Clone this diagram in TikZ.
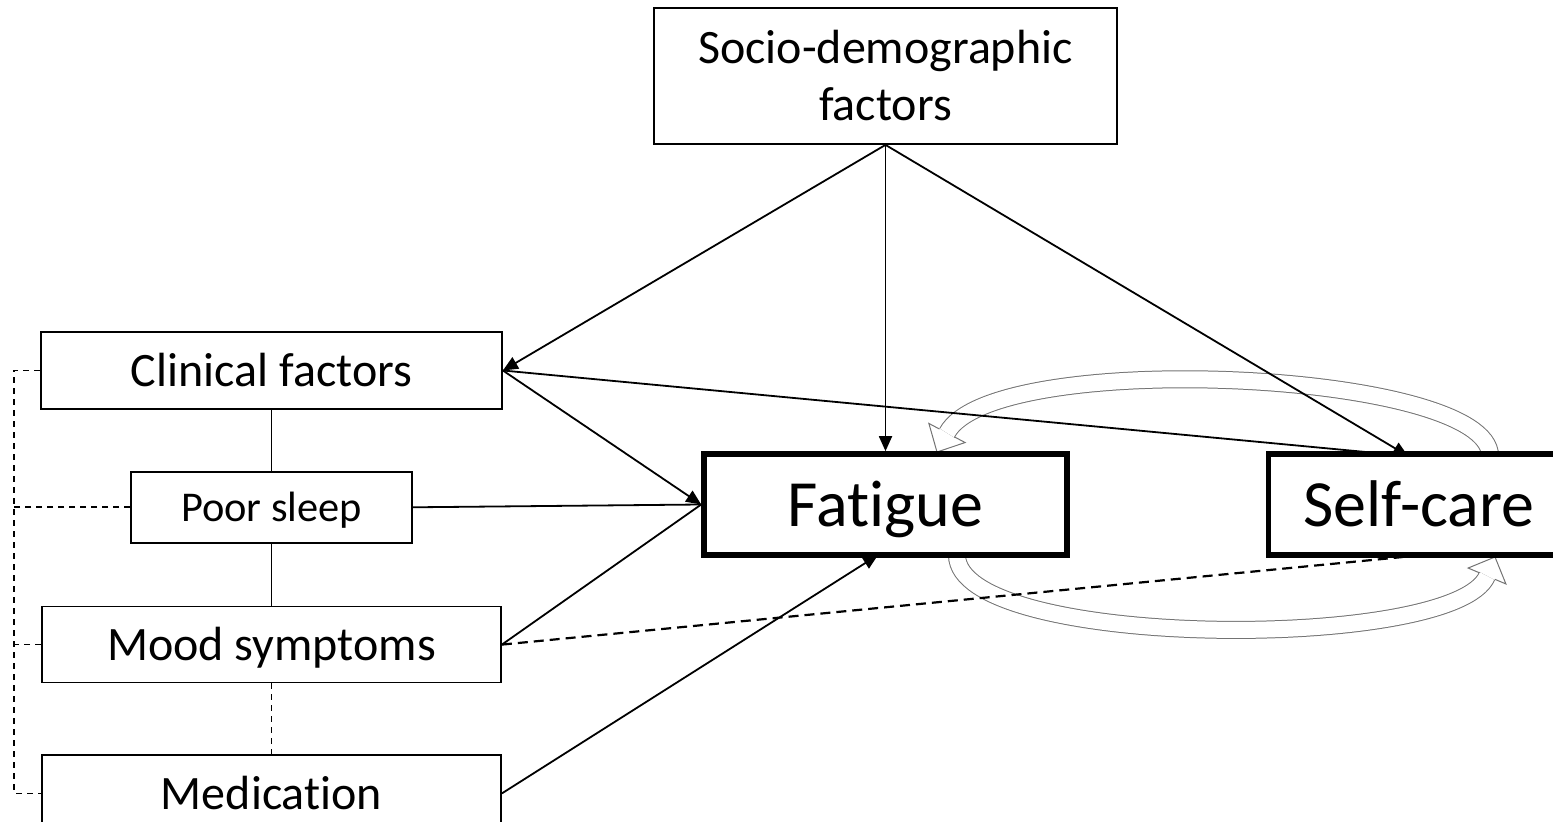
\documentclass[tikz,border=0pt]{standalone}
\usepackage{fontspec}
\setmainfont{Carlito}[Ligatures=NoCommon]
\usetikzlibrary{arrows.meta,positioning,calc,backgrounds}

\tikzset{
    factor/.style={draw, line width=0.9pt, inner sep=0pt, minimum height=38pt,
        text height=22.8pt, text depth=6.5pt, font=\fontsize{24}{28.5}\selectfont},
    outcome/.style={draw, line width=2.8pt, inner sep=0pt, minimum height=50.5pt,
        text height=31.4pt, text depth=8.9pt, font=\fontsize{33}{40}\selectfont},
    link/.style={line width=0.9pt},
    effect/.style={link, -{Triangle[length=7.5pt,width=6.5pt]}},
    assoc/.style={line width=0.85pt, dash pattern=on 3pt off 2.5pt},
    corr/.style={line width=1.1pt, dash pattern=on 5pt off 3pt},
    loopline/.style={draw=black!55, line width=0.5pt},
    feedback/.style={loopline, double=white, double distance=8pt}
}

\begin{document}
\begin{tikzpicture}[x=0.5pt, y=-0.5pt]
\useasboundingbox (0,0) rectangle (1553,822);

\node[factor, minimum width=231.5pt, minimum height=68pt, text height=, text depth=, align=center] (socio) at (885.5,76) {Socio-demographic\\factors};

\node[factor, minimum width=230.5pt, minimum height=38.5pt] (clin) at (271.5,370.5) {Clinical factors};
\node[factor, minimum width=140.5pt, minimum height=35.5pt, text height=20.1pt, text depth=5.7pt, font=\fontsize{21.2}{25}\selectfont] (sleep) [below=30.5pt of clin] {Poor sleep};
\node[factor, minimum width=229.5pt] (mood) [below=31pt of sleep] {Mood symptoms};
\node[factor, minimum width=229.5pt] (medic) [below=35.5pt of mood] {Medication};

\node[outcome, minimum width=181.5pt] (fat) at (885.5,504.5) {Fatigue};
\node[outcome, text width=133.5pt, inner xsep=17.5pt, align=left] (self) [right=98pt of fat] {Self-care};

\coordinate (selfin) at (1408,456);
\coordinate (selfout) at (1403,557);
\coordinate (fatin) at (878,555);
\coordinate (brk) at (14,370.5);

% fatigue <-> self-care loop
\coordinate (t1) at (937,452);
\coordinate (b1) at (947,433);
\coordinate (t2) at (1495,557);
\coordinate (b2) at (1487,576);
\begin{scope}[on background layer]
\draw[feedback] (1490,456) .. controls (1490,370) and (992,348) .. (b1);
\draw[feedback] (957,555) .. controls (957,650) and (1455,652) .. (b2);
\foreach \b/\t in {b1/t1, b2/t2}
    \draw[loopline] ($(\b)!4.25pt!90:(\t)$) -- ($(\b)!10.25pt!90:(\t)$) -- (\t)
        -- ($(\b)!10.25pt!-90:(\t)$) -- ($(\b)!4.25pt!-90:(\t)$);
\end{scope}

\draw[effect] (socio.south) -- (clin.east);
\draw[effect] (socio.south) -- (fat.north);
\draw[effect] (socio.south) -- (selfin);
\draw[link] (clin.east) -- (selfin);

\draw[effect] (clin.east) -- (fat.west);
\draw[link] (sleep.east) -- (fat.west);
\draw[link] (mood.east) -- (fat.west);
\draw[effect] (medic.east) -- (fatin);
\draw[corr] (mood.east) -- (selfout);

\draw[link] (clin.south) -- (sleep.north);
\draw[link] (sleep.south) -- (mood.north);
\draw[assoc] (mood.south) -- (medic.north);

\draw[assoc] (clin.west) -- (clin.west -| brk) |- (medic.west);
\draw[assoc] (sleep.west) -- (sleep.west -| brk);
\draw[assoc] (mood.west) -- (mood.west -| brk);

\end{tikzpicture}
\end{document}
